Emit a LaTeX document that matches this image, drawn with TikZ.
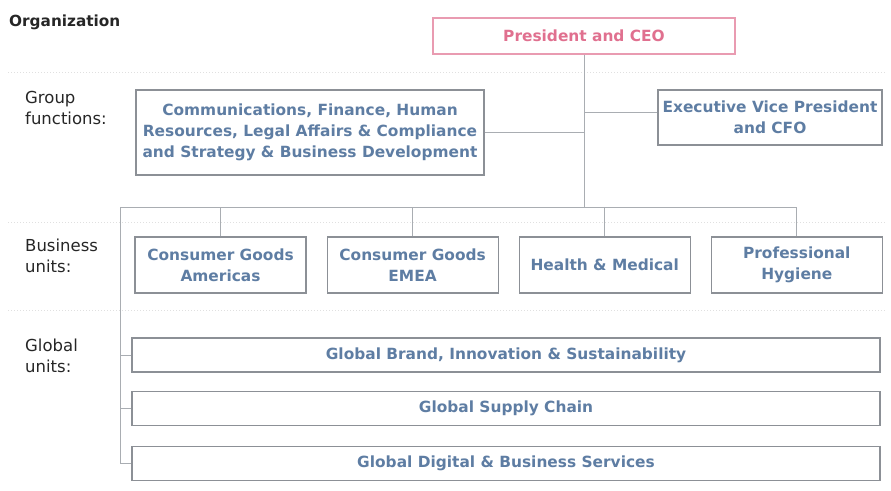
\documentclass[tikz,border=0pt]{standalone}
\usepackage{fontspec}
\setmainfont{DejaVu Sans}
\usetikzlibrary{positioning}

\definecolor{unitblue}{HTML}{5E7DA3}
\definecolor{ceopink}{HTML}{E0708F}
\definecolor{boxgray}{HTML}{8C9096}
\definecolor{linegray}{HTML}{A9ADB2}

\tikzset{
  unit/.style={draw=boxgray, line width=1.1pt, text=unitblue, inner sep=0pt,
    align=center, font=\fontsize{15.4}{21}\selectfont\bfseries},
  busunit/.style={unit, minimum width=171, minimum height=56},
  globunit/.style={unit, minimum width=748, minimum height=34},
  rowlabel/.style={anchor=north west, align=left, inner sep=0pt,
    text=black!85, font=\fontsize{16.5}{21}\selectfont},
  link/.style={draw=linegray, line width=1pt},
  sep/.style={draw=black!12, dotted, line width=1pt}
}

\begin{document}
\begin{tikzpicture}[x=1pt,y=-1pt]
\useasboundingbox (0,0) rectangle (891,490);

% faint row separators
\draw[sep] (8,72) -- (885,72);
\draw[sep] (8,222) -- (885,222);
\draw[sep] (8,310) -- (885,310);

\node[anchor=west, inner sep=0pt, text=black!85, font=\fontsize{15.3}{18}\selectfont\bfseries] (org) at (9,22) {Organization};

% top
\node[unit, draw=ceopink!70, text=ceopink, minimum width=302, minimum height=36] (ceo) at (584,36) {President and CEO};
\node[unit, minimum width=348, minimum height=85] (gf) at (310,132.5)
  {Communications, Finance, Human\\Resources, Legal Affairs \& Compliance\\and Strategy \& Business Development};
\node[unit, minimum width=224, minimum height=55] (evp) at (770,117.5) {Executive Vice President\\and CFO};

% row labels
\node[rowlabel] (lgf) at (25,91) {Group\\functions:};
\node[rowlabel] (lbu) at (25,239) {Business\\units:};
\node[rowlabel] (lgu) at (25,339) {Global\\units:};

% business units
\node[busunit] (bu1) at (220.5,265) {Consumer Goods\\Americas};
\node[busunit, right=20pt of bu1] (bu2) {Consumer Goods\\EMEA};
\node[busunit, right=20pt of bu2] (bu3) {Health \& Medical};
\node[busunit, right=20pt of bu3] (bu4) {Professional\\Hygiene};

% global units
\node[globunit] (gu1) at (506,355) {Global Brand, Innovation \& Sustainability};
\node[globunit] (gu2) at (506,408.5) {Global Supply Chain};
\node[globunit] (gu3) at (506,463.5) {Global Digital \& Business Services};

% connectors
\coordinate (bus) at (584,207);
\coordinate (busleft) at (120,207);
\draw[link] (ceo) -- (bus);
\draw[link] (gf.east) -- (gf.east -| bus);
\draw[link] ([yshift=5pt]evp.west) -- ([yshift=5pt]evp.west -| bus);
\draw[link] (busleft) -- (bus -| bu4.north);
\foreach \u in {bu1,bu2,bu3,bu4}
  \draw[link] (\u.north) -- (\u.north |- bus);
\draw[link] (busleft) |- (gu3.west);
\foreach \u in {gu1,gu2}
  \draw[link] (\u.west) -- (\u.west -| busleft);
\end{tikzpicture}
\end{document}
